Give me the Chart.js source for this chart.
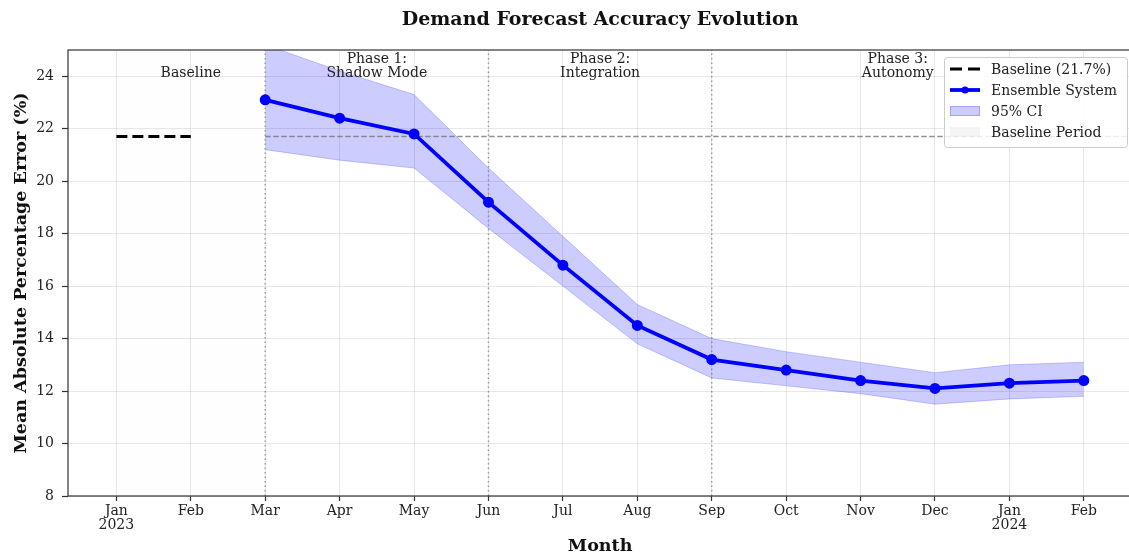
<!DOCTYPE html>
<html>
<head>
<meta charset="utf-8">
<script src="https://cdn.jsdelivr.net/npm/chart.js@4.4.1/dist/chart.umd.min.js"></script>
<style>
  html, body { margin: 0; padding: 0; background: #fff; overflow: hidden; }
  #wrap { width: 1129px; height: 557px; overflow: hidden; position: relative; }
  canvas { display: block; }
</style>
</head>
<body>
<div id="wrap"><canvas id="chart" width="1140" height="557"></canvas></div>
<script>
// months on the x axis (evenly spaced, one slot per month)
const months = ['Jan', 'Feb', 'Mar', 'Apr', 'May', 'Jun', 'Jul', 'Aug', 'Sep', 'Oct', 'Nov', 'Dec', 'Jan', 'Feb'];
const years = {0: '2023', 12: '2024'};
const yTicks = [8, 10, 12, 14, 16, 18, 20, 22, 24];

// ensemble runs Mar 2023 .. Feb 2024
const ensembleStart = 2;
const ensemble = [23.1, 22.4, 21.8, 19.2, 16.8, 14.5, 13.2, 12.8, 12.4, 12.1, 12.3, 12.4];
const ciUpper  = [25.2, 24.2, 23.3, 20.5, 17.9, 15.3, 14.0, 13.5, 13.1, 12.7, 13.0, 13.1];
const ciLower  = [21.2, 20.8, 20.5, 18.2, 16.0, 13.8, 12.5, 12.2, 11.9, 11.5, 11.7, 11.8];

const baselineMape = 21.7;
const phaseBounds = [0, 2, 5, 8, 13];
const phaseLabels = [['Baseline'], ['Phase 1:', 'Shadow Mode'], ['Phase 2:', 'Integration'], ['Phase 3:', 'Autonomy']];

const X_MIN = -0.65, X_MAX = 13.65, Y_MIN = 8, Y_MAX = 25;
const SERIF = '"DejaVu Serif", "Liberation Serif", serif';

const toPts = arr => arr.map((v, i) => ({x: ensembleStart + i, y: v}));

const datasets = [
  {
    label: 'Ensemble System',
    data: toPts(ensemble),
    borderColor: '#0000ff',
    backgroundColor: '#0000ff',
    borderWidth: 3.8,
    pointRadius: 3.6,
    pointBackgroundColor: '#0000ff',
    pointBorderColor: '#0000ff',
    order: 1,
  },
  {
    label: '95% CI',
    data: toPts(ciUpper),
    borderColor: 'rgba(0,0,255,0.2)',
    backgroundColor: 'rgba(0,0,255,0.2)',
    borderWidth: 1,
    pointRadius: 0,
    fill: '+1',
    order: 8,
  },
  {
    label: 'ci-lower',
    data: toPts(ciLower),
    borderColor: 'rgba(0,0,255,0.2)',
    borderWidth: 1,
    pointRadius: 0,
    fill: false,
    order: 9,
  },
  {
    label: 'Baseline (21.7%)',
    data: [{x: phaseBounds[0], y: baselineMape}, {x: 1, y: baselineMape}],
    borderColor: '#000',
    borderWidth: 3,
    borderDash: [11, 5],
    pointRadius: 0,
    order: 2,
  },
  {
    label: 'baseline-ref',
    data: [{x: phaseBounds[1], y: baselineMape}, {x: X_MAX, y: baselineMape}],
    borderColor: 'rgba(110,110,110,0.75)',
    borderWidth: 1.5,
    borderDash: [5.5, 2.5],
    pointRadius: 0,
    order: 3,
  },
  {
    label: 'Baseline Period',
    data: [{x: phaseBounds[0], y: Y_MAX}, {x: phaseBounds[1], y: Y_MAX}],
    borderWidth: 0,
    borderColor: 'rgba(0,0,0,0)',
    backgroundColor: 'rgba(128,128,128,0.01)',
    pointRadius: 0,
    fill: 'start',
    order: 10,
  },
];

phaseBounds.slice(1, 4).forEach(b => {
  datasets.push({
    label: 'divider',
    data: [{x: b, y: Y_MIN}, {x: b, y: Y_MAX}],
    borderColor: 'rgba(128,128,128,0.75)',
    borderWidth: 1.5,
    borderDash: [1.5, 3],
    pointRadius: 0,
    order: 4,
  });
});

const legendItems = ['Baseline (21.7%)', 'Ensemble System', '95% CI', 'Baseline Period'];

const decorations = {
  id: 'decorations',
  afterDraw(chart) {
    const {ctx, chartArea: a, scales: {x, y}} = chart;
    ctx.save();
    // title
    ctx.fillStyle = '#111';
    ctx.font = 'bold 19px ' + SERIF;
    ctx.textAlign = 'center';
    ctx.textBaseline = 'middle';
    ctx.fillText('Demand Forecast Accuracy Evolution', (a.left + a.right) / 2, 20);

    // phase labels
    ctx.font = '14px ' + SERIF;
    ctx.fillStyle = '#222';
    ctx.textBaseline = 'alphabetic';
    phaseLabels.forEach((lines, i) => {
      const cx = x.getPixelForValue((phaseBounds[i] + phaseBounds[i + 1]) / 2);
      const base = y.getPixelForValue(24) + 1;
      lines.forEach((t, j) => {
        ctx.fillText(t, cx, base - (lines.length - 1 - j) * 14.5);
      });
    });

    // frame
    ctx.strokeStyle = '#333';
    ctx.lineWidth = 1.2;
    ctx.strokeRect(a.left, a.top, a.right - a.left, a.bottom - a.top);

    // legend
    const lx = 944, ly = 57, lw = 183, lh = 90;
    ctx.beginPath();
    ctx.roundRect(lx + 0.5, ly + 0.5, lw, lh, 3);
    ctx.fillStyle = 'rgba(255,255,255,0.85)';
    ctx.fill();
    ctx.strokeStyle = '#cccccc';
    ctx.lineWidth = 1;
    ctx.stroke();

    const byLabel = l => chart.data.datasets.find(d => d.label === l);
    legendItems.forEach((label, i) => {
      const ry = ly + 12 + i * 21;
      const ds = byLabel(label);
      const h0 = lx + 6, h1 = lx + 36;
      if (label === 'Baseline (21.7%)' || label === 'Ensemble System') {
        ctx.beginPath();
        ctx.setLineDash(label === 'Ensemble System' ? [] : [12, 6]);
        ctx.strokeStyle = ds.borderColor;
        ctx.lineWidth = ds.borderWidth;
        ctx.moveTo(h0, ry);
        ctx.lineTo(h1, ry);
        ctx.stroke();
        ctx.setLineDash([]);
        if (label === 'Ensemble System') {
          ctx.beginPath();
          ctx.arc((h0 + h1) / 2, ry, ds.pointRadius, 0, Math.PI * 2);
          ctx.fillStyle = ds.pointBackgroundColor;
          ctx.fill();
        }
      } else {
        ctx.fillStyle = label === 'Baseline Period' ? 'rgba(128,128,128,0.08)' : ds.backgroundColor;
        ctx.fillRect(h0, ry - 5, h1 - h0, 10);
        if (label === '95% CI') {
          ctx.strokeStyle = ds.borderColor;
          ctx.lineWidth = 1;
          ctx.strokeRect(h0 + 0.5, ry - 4.5, h1 - h0 - 1, 9);
        }
      }
      ctx.fillStyle = '#222';
      ctx.font = '14px ' + SERIF;
      ctx.textAlign = 'left';
      ctx.textBaseline = 'middle';
      ctx.fillText(label, lx + 47, ry + 1);
    });
    ctx.restore();
  }
};

new Chart(document.getElementById('chart'), {
  type: 'line',
  data: {datasets: datasets},
  options: {
    responsive: false,
    animation: false,
    // canvas is wider than the window: the right spine sits just past the picture edge
    layout: {padding: {top: 50, right: 6, left: 0, bottom: 0}},
    plugins: {
      legend: {display: false},
      tooltip: {enabled: false},
    },
    elements: {line: {tension: 0}},
    scales: {
      x: {
        type: 'linear',
        min: X_MIN,
        max: X_MAX,
        afterBuildTicks: s => { s.ticks = months.map((m, i) => ({value: i})); },
        afterFit: s => { s.height = 61; s.paddingLeft = 0; s.paddingRight = 0; },
        ticks: {
          autoSkip: false,
          maxRotation: 0,
          padding: 3,
          color: '#222',
          font: {family: SERIF, size: 14, lineHeight: 1.0},
          callback: v => years[v] ? [months[v], years[v]] : months[v],
        },
        grid: {
          color: 'rgba(176,176,176,0.3)',
          lineWidth: 1,
          tickLength: 5,
          tickColor: '#333',
          tickWidth: 1.2,
        },
        border: {display: false},
        title: {
          display: true,
          text: 'Month',
          color: '#111',
          font: {family: SERIF, size: 17.5, weight: 'bold'},
          padding: {top: 0, bottom: 0},
        },
      },
      y: {
        min: Y_MIN,
        max: Y_MAX,
        afterBuildTicks: s => { s.ticks = yTicks.map(v => ({value: v})); },
        afterFit: s => { s.width = 68; },
        ticks: {
          padding: 8,
          color: '#222',
          font: {family: SERIF, size: 14},
        },
        grid: {
          color: 'rgba(176,176,176,0.3)',
          lineWidth: 1,
          tickLength: 6,
          tickColor: '#333',
          tickWidth: 1.2,
        },
        border: {display: false},
        title: {
          display: true,
          text: 'Mean Absolute Percentage Error (%)',
          color: '#111',
          font: {family: SERIF, size: 17.5, weight: 'bold'},
          padding: {top: 11, bottom: 0},
        },
      },
    },
  },
  plugins: [decorations],
});
</script>
</body>
</html>
